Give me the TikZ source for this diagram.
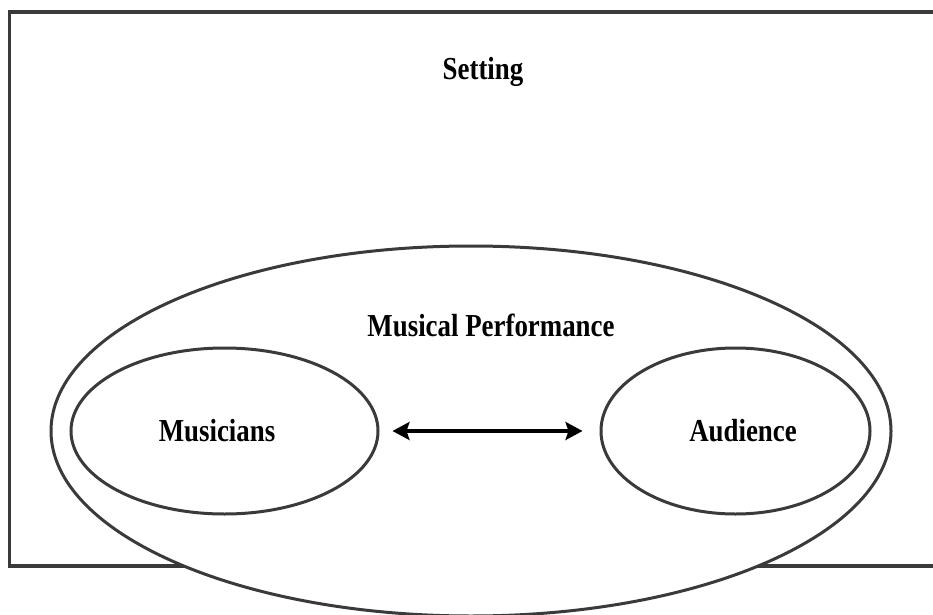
\documentclass[tikz,border=0pt]{standalone}
\usepackage{fontspec}
\setmainfont{Liberation Serif}
\usepackage{tikz}
\usetikzlibrary{arrows.meta, positioning, shapes.geometric}
\definecolor{inkgray}{RGB}{58,58,58}

\begin{document}
\begin{tikzpicture}[x=1pt, y=1pt,
        every node/.style={font=\fontsize{32}{36}\selectfont\bfseries},
        ring/.style={draw=inkgray, line width=3pt, ellipse, fill=white, inner sep=0pt},
        lbl/.style={xscale=0.84}]
            \useasboundingbox (0,0) rectangle (933,614);
            \clip (0,0) rectangle (933,614);
            \draw[inkgray, line width=3.4pt] (9.5,48) rectangle (945,602);
            \node[lbl] (set) at (483,542) {Setting};
            \node[ring, minimum width=840pt, minimum height=370pt] (perf) at (471,183) {};
            \node[lbl] (perflbl) at (491,289) {Musical Performance};
            \node[ring, minimum width=307pt, minimum height=166pt] (mus) at (224.5,183) {};
            \node[ring, minimum width=269pt, minimum height=166pt] (aud) at (735.5,183) {};
            \node[lbl] (muslbl) at (217,183) {Musicians};
            \node[lbl] (audlbl) at (743,183) {Audience};
            \draw[{Stealth[length=17pt, width=18pt, inset=3pt]}-{Stealth[length=17pt, width=18pt, inset=3pt]}, line width=3.2pt, shorten <=13pt, shorten >=17pt] (mus) -- (aud);
        \end{tikzpicture}
\end{document}
